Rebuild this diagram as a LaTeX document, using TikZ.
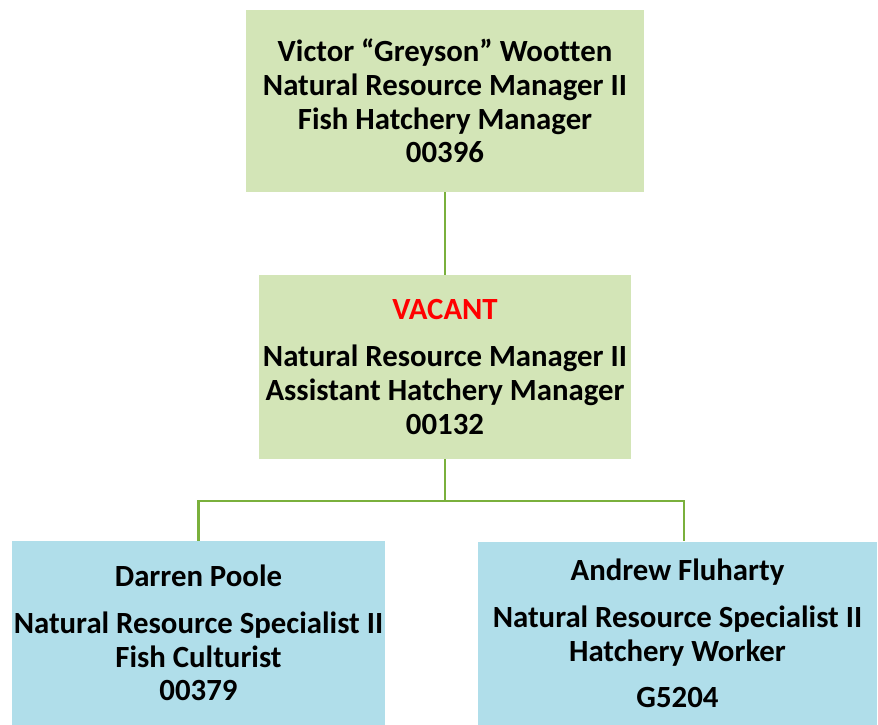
\documentclass[tikz,border=0pt]{standalone}
\usepackage{fontspec}
\setmainfont{Carlito}[Ligatures={NoCommon}]
\usepackage{tikz}
\usetikzlibrary{positioning,calc}
\definecolor{boxgreen}{RGB}{211,229,183}
\definecolor{boxblue}{RGB}{176,222,234}
\definecolor{linegreen}{RGB}{122,176,60}
\definecolor{vacantred}{RGB}{255,0,0}

\begin{document}
\begin{tikzpicture}[x=1pt,y=-1pt,
  posbox/.style={draw=none,inner sep=0pt,align=center,
    font=\fontsize{30.8}{33.7}\selectfont\bfseries},
  mgrbox/.style={posbox,fill=boxgreen},
  staffbox/.style={posbox,fill=boxblue},
  link/.style={draw=linegreen,line width=2.6pt}]
\useasboundingbox (0,0) rectangle (878,725);
%% Manager
\node[mgrbox,minimum width=398pt,minimum height=182pt] (mgr) at (445,101)
  {Victor “Greyson” Wootten\\Natural Resource Manager II\\Fish Hatchery Manager\\00396};
%% Assistant manager
\node[mgrbox,minimum width=372pt,minimum height=184pt] (asst) at (445,367)
  {\textcolor{vacantred}{VACANT}\\[13pt]Natural Resource Manager II\\Assistant Hatchery Manager\\00132};
%% Staff
\node[staffbox,minimum width=373pt,minimum height=184pt] (poole) at (198.5,633)
  {Darren Poole\\[13pt]Natural Resource Specialist II\\Fish Culturist\\00379};
\node[staffbox,minimum width=399pt,minimum height=183pt] (fluharty) at (677.5,633.5)
  {Andrew Fluharty\\[13pt]Natural Resource Specialist II\\Hatchery Worker\\[13pt]G5204};
%% Connectors
\coordinate (split) at (445,501);
\coordinate (rdrop) at (684,541);
\draw[link] (mgr.south) -- (asst.north);
\draw[link] (asst.south) -- (split);
\draw[link] (split) -| (poole.north);
\draw[link] (split) -| (rdrop);
\end{tikzpicture}
\end{document}
